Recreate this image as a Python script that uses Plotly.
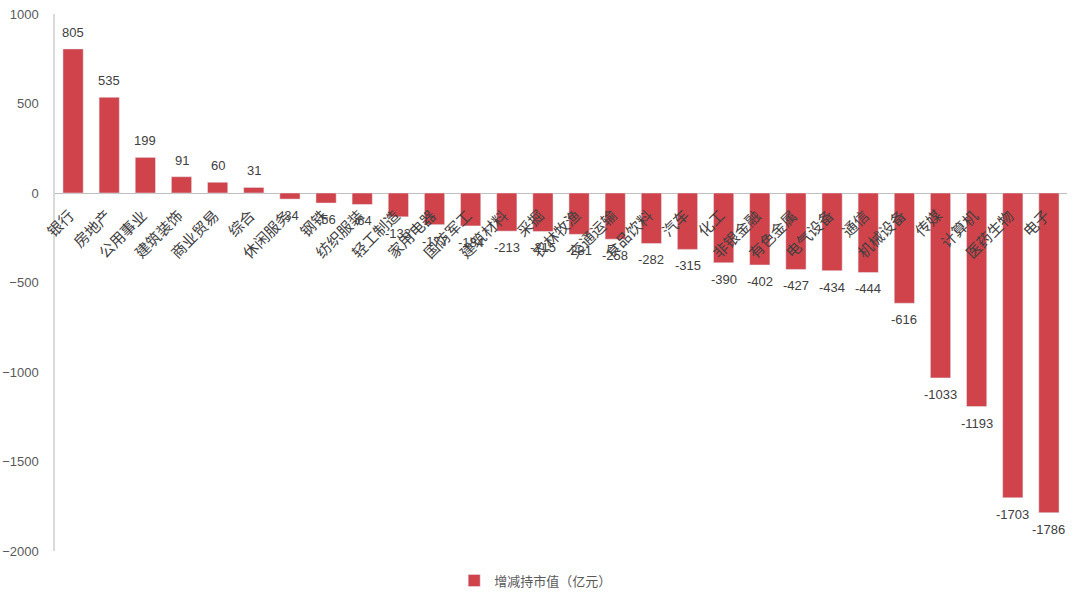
import plotly.graph_objects as go

categories = ["银行", "房地产", "公用事业", "建筑装饰", "商业贸易", "综合", "休闲服务", "钢铁",
              "纺织服装", "轻工制造", "家用电器", "国防军工", "建筑材料", "采掘", "农林牧渔",
              "交通运输", "食品饮料", "汽车", "化工", "非银金融", "有色金属", "电气设备",
              "通信", "机械设备", "传媒", "计算机", "医药生物", "电子"]
values = [805, 535, 199, 91, 60, 31, -34, -56, -64, -133, -177, -184, -213, -215, -231,
          -258, -282, -315, -390, -402, -427, -434, -444, -616, -1033, -1193, -1703, -1786]
series_name = "增减持市值（亿元）"
y_ticks = [1000, 500, 0, -500, -1000, -1500, -2000]

BAR = "#D0434A"
fig = go.Figure()
fig.add_trace(go.Bar(x=categories, y=values, name=series_name, marker_color=BAR,
                     width=0.56, showlegend=True))

annotations = []
for c, v in zip(categories, values):
    annotations.append(dict(x=c, y=v, text=str(v), showarrow=False,
                            yanchor="bottom" if v >= 0 else "top",
                            yshift=7 if v >= 0 else -7,
                            font=dict(family="Liberation Sans", size=13, color="#404040")))
    annotations.append(dict(x=c, y=0, text=c, showarrow=False, textangle=-45,
                            xanchor="right", yanchor="top", xshift=8, yshift=-9,
                            font=dict(family="Noto Sans CJK SC", size=15, color="#404040")))

fig.update_layout(
    width=1080, height=608,
    margin=dict(l=55, r=13, t=14, b=57),
    plot_bgcolor="white", paper_bgcolor="white",
    annotations=annotations,
    showlegend=True,
    legend=dict(orientation="h", x=0.475, xanchor="center", y=-0.055, yanchor="middle",
                font=dict(family="Noto Sans CJK SC", size=13, color="#595959"),
                itemwidth=30),
    xaxis=dict(showticklabels=False, showline=False, showgrid=False, zeroline=False,
               range=[-0.5, 27.5], automargin=False),
    yaxis=dict(range=[-2000, 1000], tickvals=y_ticks, showgrid=False, automargin=False,
               zeroline=True, zerolinecolor="#BFBFBF", zerolinewidth=1.2,
               showline=True, linecolor="#D9D9D9", linewidth=1.5,
               ticks="", ticklabelstandoff=12,
               tickfont=dict(family="Liberation Sans", size=13, color="#595959")),
    bargap=0.44,
)

fig.write_html("out.html", config={"displayModeBar": False},
               post_script="document.body.style.margin='0';document.body.style.overflow='hidden';")
